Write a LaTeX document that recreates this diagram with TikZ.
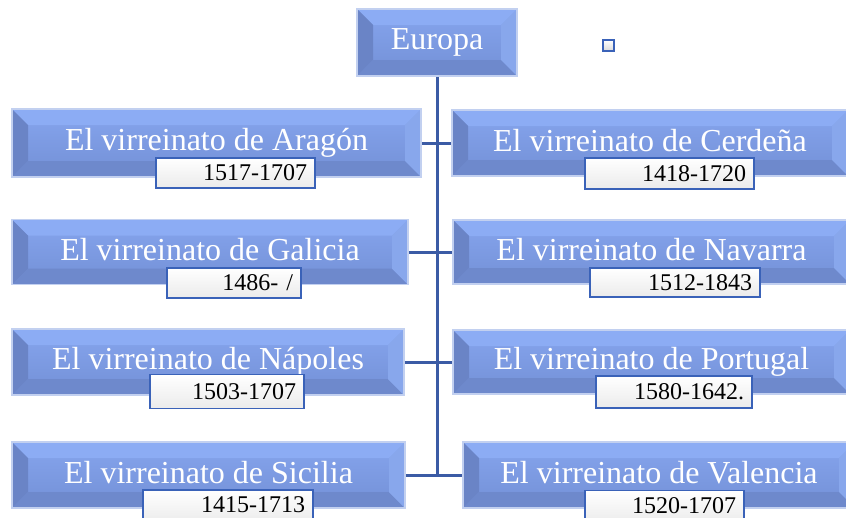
\documentclass[tikz,border=0pt]{standalone}
\usepackage{fontspec}
\setmainfont{Liberation Serif}
\definecolor{rimc}{HTML}{C2D0F0}
\definecolor{topc}{HTML}{8CACF4}
\definecolor{midtop}{HTML}{86A5EE}
\definecolor{midbot}{HTML}{7390D6}
\definecolor{leftc}{HTML}{6A84C6}
\definecolor{botc}{HTML}{6E89CC}
\definecolor{rightc}{HTML}{88A7EC}
\definecolor{connc}{HTML}{3B5BA5}
\definecolor{datebd}{HTML}{3A62B8}
\tikzset{
  bev/.style={draw=rimc, line width=1.5pt, top color=midtop, bottom color=midbot,
    text=white, font=\fontsize{32}{36}\selectfont, inner sep=0pt,
    path picture={
      \fill[topc] (path picture bounding box.north west) -- (path picture bounding box.north east)
        -- ([shift={(-16pt,-16pt)}]path picture bounding box.north east)
        -- ([shift={(16pt,-16pt)}]path picture bounding box.north west) -- cycle;
      \fill[leftc] (path picture bounding box.north west)
        -- ([shift={(16pt,-16pt)}]path picture bounding box.north west)
        -- ([shift={(16pt,16pt)}]path picture bounding box.south west)
        -- (path picture bounding box.south west) -- cycle;
      \fill[botc] (path picture bounding box.south west) -- (path picture bounding box.south east)
        -- ([shift={(-16pt,16pt)}]path picture bounding box.south east)
        -- ([shift={(16pt,16pt)}]path picture bounding box.south west) -- cycle;
      \fill[rightc] (path picture bounding box.north east)
        -- (path picture bounding box.south east)
        -- ([shift={(-16pt,16pt)}]path picture bounding box.south east)
        -- ([shift={(-16pt,-16pt)}]path picture bounding box.north east) -- cycle;
    }},
  datebox/.style={draw=datebd, line width=1.8pt, top color=white, bottom color=black!8,
    font=\fontsize{24}{26}\selectfont, inner xsep=8pt, inner ysep=0pt, align=right},
  conn/.style={draw=connc, line width=3pt}
}
\begin{document}
\begin{tikzpicture}[x=1pt,y=-1pt]
\useasboundingbox (0,0) rectangle (846,517);
% top
\node[bev, minimum width=160pt, minimum height=67pt] (europa) at (437,42.5) {\raisebox{4pt}{Europa}};
\node[draw=datebd, line width=2pt, top color=white, bottom color=black!15, minimum size=11pt, inner sep=0pt] (sq) at (608.5,45.5) {};
% row 1
\node[bev, minimum width=409pt, minimum height=68pt] (aragon) at (216.5,143) {\raisebox{5pt}{El virreinato de Aragón}};
\node[bev, minimum width=396pt, minimum height=66pt] (cerdena) at (650,143) {\raisebox{5pt}{El virreinato de Cerdeña}};
% row 2
\node[bev, minimum width=396pt, minimum height=65pt] (galicia) at (210,252) {\raisebox{5pt}{El virreinato de Galicia}};
\node[bev, minimum width=397pt, minimum height=64pt] (navarra) at (651.5,252) {\raisebox{5pt}{El virreinato de Navarra}};
% row 3
\node[bev, minimum width=392pt, minimum height=66pt] (napoles) at (208,362) {\raisebox{5pt}{El virreinato de Nápoles}};
\node[bev, minimum width=397pt, minimum height=64pt] (portugal) at (651.5,362) {\raisebox{5pt}{El virreinato de Portugal}};
% row 4
\node[bev, minimum width=393pt, minimum height=66pt] (sicilia) at (208.5,475) {\raisebox{5pt}{El virreinato de Sicilia}};
\node[bev, minimum width=392pt, minimum height=66pt] (valencia) at (659,475) {\raisebox{5pt}{El virreinato de Valencia}};
% dates
\node[datebox, minimum width=159pt, minimum height=30pt, text width=143pt] (d1) at (235.5,173) {1517-1707};
\node[datebox, minimum width=169pt, minimum height=31pt, text width=153pt] (d2) at (669.5,173.5) {1418-1720};
\node[datebox, minimum width=134pt, minimum height=30pt, text width=118pt] (d3) at (234,283) {1486- /};
\node[datebox, minimum width=170pt, minimum height=29pt, text width=154pt] (d4) at (675,282.5) {1512-1843};
\node[datebox, minimum width=154pt, minimum height=34pt, text width=138pt] (d5) at (227,391.5) {1503-1707};
\node[datebox, minimum width=156pt, minimum height=32pt, text width=140pt] (d6) at (674,392) {1580-1642.};
\node[datebox, minimum width=170pt, minimum height=34pt, text width=154pt] (d7) at (228,507) {\raisebox{4pt}{1415-1713}};
\node[datebox, minimum width=159pt, minimum height=34pt, text width=143pt] (d8) at (664.5,507.5) {\raisebox{4pt}{1520-1707}};
% connectors
\draw[conn] (europa.south) -- (europa.south |- sicilia.east);
\draw[conn] (aragon.east) -- (aragon.east -| cerdena.west);
\draw[conn] (galicia.east) -- (galicia.east -| navarra.west);
\draw[conn] (napoles.east) -- (napoles.east -| portugal.west);
\draw[conn] (sicilia.east) -- (sicilia.east -| valencia.west);
\end{tikzpicture}
\end{document}
